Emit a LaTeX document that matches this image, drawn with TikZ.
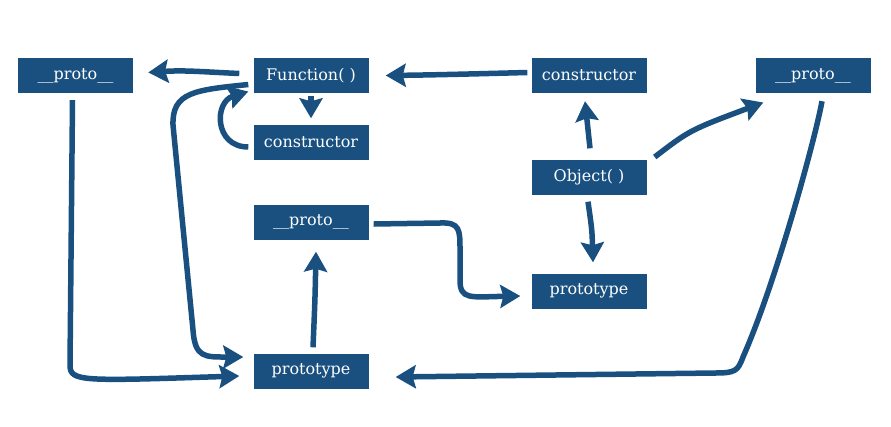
\documentclass[tikz,border=0pt]{standalone}
\usepackage{fontspec}
\setmainfont{DejaVu Serif}
\usetikzlibrary{arrows.meta,calc}
\definecolor{blu}{RGB}{25,80,128}
\begin{document}
\begin{tikzpicture}[x=1pt,y=-1pt,
  box/.style={fill=blu, text=white, minimum width=115pt, minimum height=35pt, inner sep=0pt, font=\fontsize{16}{18}\selectfont},
  arr/.style={draw=blu, line width=5.5pt, -{Stealth[length=20pt,width=23pt,inset=3pt]}}]
\useasboundingbox[fill=white] (0,0) rectangle (891,426);
\node[box] (p1) at (75.5,75.5) {\_\_proto\_\_};
\node[box] (F) at (311,75.5) {Function( )};
\node[box] (C1) at (589,75.5) {constructor};
\node[box] (p2) at (813,75.5) {\_\_proto\_\_};
\node[box] (C2) at (311,142) {constructor};
\node[box] (O) at (589,177) {Object( )};
\node[box] (p3) at (311,222) {\_\_proto\_\_};
\node[box] (P1) at (589,291) {prototype};
\node[box] (P2) at (311,371) {prototype};
% Function -> proto (left)
\draw[arr] ($(F.west)+(-14,-2)$) .. controls (205,72) and (185,70) .. ($(p1.east)+(15,-3)$);
% constructor -> Function
\draw[arr] ($(C1.west)+(-4,-3)$) .. controls (470,74) and (430,75) .. ($(F.east)+(17,0)$);
% Function -> constructor (mid)
\draw[arr] ($(F.south)+(0,3)$) -- ($(C2.north)+(0,-6)$);
% constructor (mid) -> Function loop
\draw[arr] ($(C2.west)+(-5,5)$) .. controls (214,147) and (214,102) .. ($(F.west)+(-5,16)$);
% Function -> prototype (bottom)
\draw[arr] ($(F.west)+(-5,9)$) .. controls (195,90) and (172,92) .. (173,125) -- (193,330) .. controls (195,358) and (205,357) .. ($(P2.west)+(-10,-14)$);
% proto (left) -> prototype (bottom)
\draw[arr] ($(p1.south)+(-3,7)$) -- (70,365) .. controls (70,382) and (82,381) .. ($(P2.west)+(-14,5)$);
% prototype (bottom) -> proto (mid)
\draw[arr] ($(P2.north)+(2,-6)$) .. controls (315,300) .. ($(p3.south)+(5,12)$);
% proto (mid) -> prototype (right)
\draw[arr] ($(p3.east)+(5,2)$) -- (440,223) .. controls (460,222) and (460,230) .. (460,250) -- (460,280) .. controls (460,300) and (470,297) .. ($(P1.west)+(-11,5)$);
% Object -> constructor
\draw[arr] ($(O.north)+(1,-11)$) -- ($(C1.south)+(-4,8)$);
% Object -> prototype (right)
\draw[arr] ($(O.south)+(-1,7)$) .. controls (592,230) .. ($(P1.north)+(4,-11)$);
% Object -> proto (top right)
\draw[arr] ($(O.east)+(8,-20)$) .. controls (690,130) .. ($(p2.west)+(8,27)$);
% proto (top right) -> prototype (bottom)
\draw[arr] ($(p2.south)+(9,8)$) .. controls (815,140) and (775,285) .. (743,357) .. controls (738,371) and (735,373) .. (715,373) -- ($(P2.east)+(27,6)$);
\end{tikzpicture}
\end{document}
